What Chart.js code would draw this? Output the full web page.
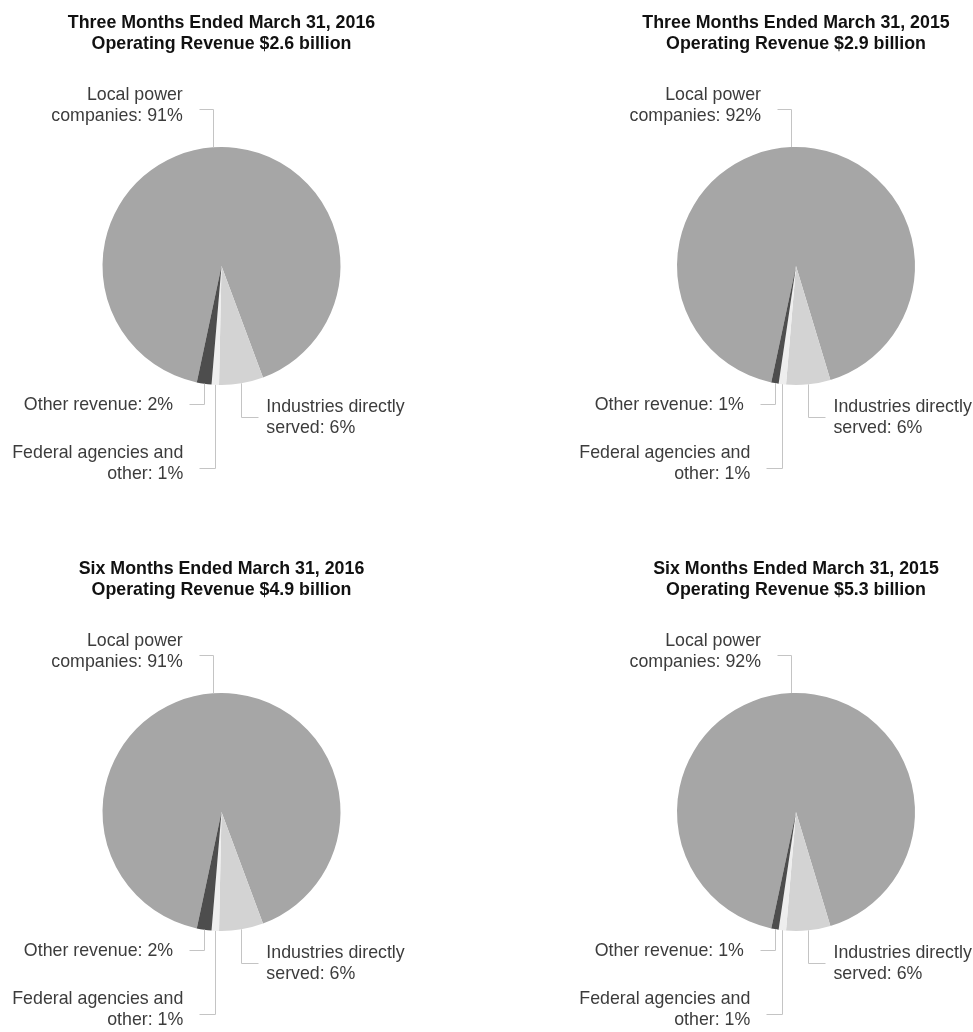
<!DOCTYPE html>
<html>
<head>
<meta charset="utf-8">
<script src="https://cdn.jsdelivr.net/npm/chart.js@4.4.1/dist/chart.umd.min.js"></script>
<style>
  html, body { margin: 0; padding: 0; background: #fff; overflow: hidden; width: 973px; height: 1032px; }
  .cell { position: absolute; height: 546px; }
  .cell canvas { display: block; }
</style>
</head>
<body>
<div class="cell" style="left:0;top:0;width:486px"><canvas id="pie-q16"></canvas></div>
<div class="cell" style="left:486px;top:0;width:487px"><canvas id="pie-q15"></canvas></div>
<div class="cell" style="left:0;top:546px;width:486px"><canvas id="pie-h16"></canvas></div>
<div class="cell" style="left:486px;top:546px;width:487px"><canvas id="pie-h15"></canvas></div>
<script>
// Revenue mix pies — four periods, same categories

const categories = [
  "Local power companies",
  "Industries directly served",
  "Federal agencies and other",
  "Other revenue",
];
// label text split over lines; the share is appended to the last line
const labelLines = [
  ["Local power", "companies: "],
  ["Industries directly", "served: "],
  ["Federal agencies and", "other: "],
  ["Other revenue: "],
];

const sharesQ2016 = [91, 6, 1, 2];
const sharesQ2015 = [92, 6, 1, 1];
const sharesH2016 = [91, 6, 1, 2];
const sharesH2015 = [92, 6, 1, 1];

const titleQ2016 = ["Three Months Ended March 31, 2016", "Operating Revenue $2.6 billion"];
const titleQ2015 = ["Three Months Ended March 31, 2015", "Operating Revenue $2.9 billion"];
const titleH2016 = ["Six Months Ended March 31, 2016", "Operating Revenue $4.9 billion"];
const titleH2015 = ["Six Months Ended March 31, 2015", "Operating Revenue $5.3 billion"];

const SLICE_COLORS = ["#a6a6a6", "#d3d3d3", "#eeeeee", "#4d4d4d"];
const LABEL_FONT = "17.8px 'Liberation Sans', Arial, sans-serif";
const LINE_H = 21;

// leader layout per slice: where the elbow sits (relative to pie edge), arm length, text gap
const LEADERS = [
  { from: "top", dy: -38, arm: -14, gap: 16, textDy: -3.5 },
  { from: "bottom", dy: 32, arm: 17, gap: 8, textDy: 1 },
  { from: "bottom", dy: 83, arm: -16, gap: 16, textDy: -4 },
  { from: "bottom", dy: 19, arm: -15, gap: 16, textDy: 1.5 },
];

const leaderLabels = {
  id: "leaderLabels",
  afterDraw(chart) {
    const ctx = chart.ctx;
    const meta = chart.getDatasetMeta(0);
    const values = chart.data.datasets[0].data;
    ctx.save();
    ctx.font = LABEL_FONT;
    ctx.textBaseline = "middle";
    meta.data.forEach((arc, i) => {
      const { x, y, startAngle, endAngle, outerRadius } = arc.getProps(
        ["x", "y", "startAngle", "endAngle", "outerRadius"],
        true
      );
      const mid = (startAngle + endAngle) / 2;
      const px = x + outerRadius * Math.cos(mid);
      const py = y + outerRadius * Math.sin(mid);
      const L = LEADERS[i];
      const elbowY = (L.from === "top" ? y - outerRadius : y + outerRadius) + L.dy;
      const endX = px + L.arm;

      ctx.strokeStyle = "#c4c4c4";
      ctx.lineWidth = 1;
      ctx.beginPath();
      ctx.moveTo(Math.round(px) + 0.5, py);
      ctx.lineTo(Math.round(px) + 0.5, Math.round(elbowY) + 0.5);
      ctx.lineTo(Math.round(endX) + 0.5, Math.round(elbowY) + 0.5);
      ctx.stroke();

      const lines = labelLines[i].slice();
      lines[lines.length - 1] += values[i] + "%";
      const right = L.arm < 0;
      ctx.textAlign = right ? "right" : "left";
      ctx.fillStyle = "#3c3c3c";
      const tx = right ? endX - L.gap : endX + L.gap;
      const blockTop = elbowY + L.textDy - ((lines.length - 1) * LINE_H) / 2;
      lines.forEach((t, k) => ctx.fillText(t, tx, blockTop + k * LINE_H));
    });
    ctx.restore();
  },
};

function makePie(id, title, shares, padLeft, padRight) {
  return new Chart(document.getElementById(id), {
    type: "pie",
    data: {
      labels: categories,
      datasets: [
        {
          data: shares,
          backgroundColor: SLICE_COLORS,
          borderWidth: 0,
          hoverOffset: 0,
        },
      ],
    },
    options: {
      responsive: true,
      maintainAspectRatio: false,
      animation: false,
      events: [],
      rotation: 192,
      layout: { padding: { top: 0, bottom: 161, left: padLeft, right: padRight } },
      plugins: {
        legend: { display: false },
        tooltip: { enabled: false },
        title: {
          display: true,
          text: title,
          color: "#111",
          font: { family: "'Liberation Sans', Arial, sans-serif", size: 17.8, weight: "bold", lineHeight: "21px" },
          padding: { top: 12.5, bottom: 92.5 },
        },
      },
    },
    plugins: [leaderLabels],
  });
}

makePie("pie-q16", titleQ2016, sharesQ2016, 51.5, 94.5);
makePie("pie-q15", titleQ2015, sharesQ2015, 140, 7);
makePie("pie-h16", titleH2016, sharesH2016, 51.5, 94.5);
makePie("pie-h15", titleH2015, sharesH2015, 140, 7);
</script>
</body>
</html>
